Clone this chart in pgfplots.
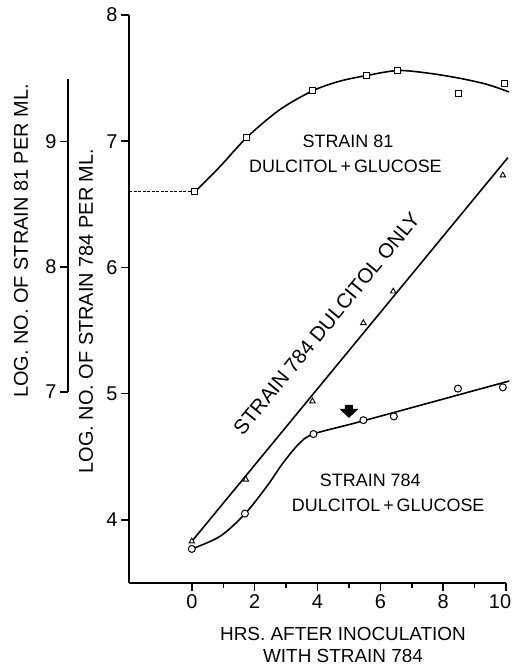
\documentclass[border=0pt]{standalone}
\usepackage{pgfplots}
\pgfplotsset{compat=1.18}
\usepackage{fontspec}
\setmainfont{Liberation Sans}
\begin{document}
\begin{tikzpicture}
\begin{axis}[
  at={(129bp,83bp)}, anchor=south west,
  scale only axis, width=377bp, height=568bp,
  xmin=-2, xmax=10, ymin=3.5, ymax=8,
  axis lines*=left,
  axis line style={line width=1.7bp, black},
  xtick={0,2,...,10}, minor xtick={1,3,...,9},
  xticklabels={0,2,4,6,8,\kern-12bp 10},
  ytick={4,5,6,7,8},
  tick align=outside,
  major tick length=8bp, minor tick length=5bp,
  tick style={line width=1.5bp, black},
  ticklabel style={font=\fontsize{20}{20}\selectfont},
  /pgf/number format/assume math mode=true,
  clip=false,
]
% Strain 81, dulcitol + glucose (squares)
\addplot[black, line width=1.6bp, smooth, tension=0.5] coordinates {
  (0.1,6.6) (0.9,6.8) (1.75,7.03) (2.8,7.25) (3.85,7.40) (4.7,7.475)
  (5.55,7.52) (6.55,7.56) (7.5,7.54) (8.5,7.50) (9.4,7.45) (10.1,7.39)};
\addplot[black, line width=1.3bp, dash pattern=on 3bp off 1.5bp] coordinates {(-2,6.6) (0.1,6.6)};
\addplot[only marks, mark=square*, mark size=3bp, mark options={fill=white, draw=black, line width=1bp}] coordinates {
  (0.1,6.6) (1.75,7.03) (3.85,7.40) (5.55,7.52) (6.55,7.56) (8.5,7.38) (9.95,7.46)};
% Strain 784, dulcitol only (triangles)
\addplot[black, line width=1.6bp] coordinates {(0,3.83) (10.06,6.87)};
\addplot[only marks, mark=triangle*, mark size=3.2bp, mark options={fill=white, draw=black, line width=0.9bp}] coordinates {
  (0,3.83) (1.72,4.32) (3.84,4.94) (5.46,5.56) (6.41,5.81) (9.9,6.73)};
% Strain 784, dulcitol + glucose (circles)
\addplot[black, line width=1.6bp, smooth, tension=0.5] coordinates {
  (0,3.77) (0.9,3.87) (1.7,4.05) (2.4,4.27) (2.9,4.45) (3.4,4.6) (3.87,4.68) (5.46,4.785) (10.1,5.1)};
\addplot[only marks, mark=*, mark size=3.5bp, mark options={fill=white, draw=black, line width=1bp}] coordinates {
  (0,3.77) (1.69,4.05) (3.87,4.68) (5.46,4.79) (6.43,4.82) (8.47,5.04) (9.9,5.05)};
\coordinate (arrowtip) at (axis cs:5.0,4.808);
% labels
\node[font=\fontsize{18}{18}\selectfont] at (axis cs:4.97,7.0) {STRAIN 81};
\node[font=\fontsize{18}{18}\selectfont] at (axis cs:4.89,6.80) {DULCITOL\,+\,GLUCOSE};
\node[font=\fontsize{18}{18}\selectfont] at (axis cs:5.68,4.313) {STRAIN 784};
\node[font=\fontsize{18}{18}\selectfont] at (axis cs:6.25,4.115) {DULCITOL\,+\,GLUCOSE};
\node[font=\fontsize{20.5}{20.5}\selectfont, rotate=50.6, anchor=base west, inner sep=0pt] at (axis cs:1.62,4.66) {STRAIN 784 DULCITOL ONLY};
\end{axis}
\fill[black] (arrowtip) -- ++(-9.5bp,9bp) -- ++(5.5bp,0) -- ++(0,4bp) -- ++(8bp,0) -- ++(0,-4bp) -- ++(5.5bp,0) -- cycle;
\begin{axis}[
  at={(68bp,274bp)}, anchor=south west,
  scale only axis, width=20bp, height=313bp,
  xmin=0, xmax=1, ymin=7, ymax=9.5,
  hide x axis, axis y line*=left,
  axis line style={line width=1.7bp, black},
  ytick={7,8,9},
  tick align=outside, major tick length=8bp,
  tick style={line width=1.5bp, black},
  ticklabel style={font=\fontsize{20}{20}\selectfont},
  /pgf/number format/assume math mode=true,
]
\addplot[draw=none] coordinates {(0,7)};
\end{axis}
\node[rotate=90, font=\fontsize{20}{20}\selectfont] at (21bp,425bp) {LOG. NO. OF STRAIN 81 PER ML.};
\node[rotate=90, font=\fontsize{20}{20}\selectfont] at (86bp,355bp) {LOG. NO. OF STRAIN 784 PER ML.};
\node[align=center, font=\fontsize{19}{22}\selectfont] at (343bp,21bp) {HRS. AFTER INOCULATION\\WITH STRAIN 784};
\pgfresetboundingbox
\path[use as bounding box] (0,0) rectangle (514bp,666bp);
\end{tikzpicture}
\end{document}
